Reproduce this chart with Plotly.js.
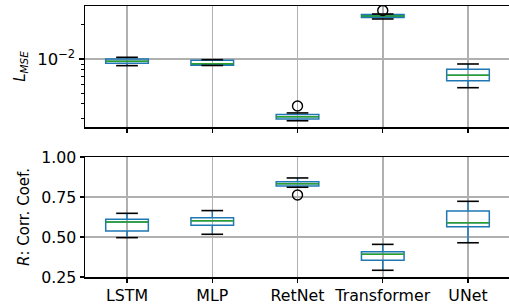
<!DOCTYPE html>
<html>
<head>
<meta charset="utf-8">
<script src="https://cdn.plot.ly/plotly-3.0.1.min.js"></script>
<style>html,body{margin:0;padding:0;background:#fff;}#chart{width:509px;height:305px;}</style>
</head>
<body>
<div id="chart"></div>
<script>
// Categories
const models = ["LSTM", "MLP", "RetNet", "Transformer", "UNet"];

// Top panel: L_MSE box statistics (log scale)
const mseLowerWhisker = [0.00873, 0.00876, 0.00284, 0.02260, 0.00557];
const mseQ1           = [0.00916, 0.00880, 0.00294, 0.02329, 0.00643];
const mseMedian       = [0.00954, 0.00909, 0.00308, 0.02403, 0.00718];
const mseQ3           = [0.01000, 0.00974, 0.00323, 0.02477, 0.00811];
const mseUpperWhisker = [0.01035, 0.00986, 0.00333, 0.02500, 0.00903];
const mseOutlierModel = ["RetNet", "Transformer"];
const mseOutlierValue = [0.00384, 0.02685];

// Bottom panel: R correlation coefficient box statistics
const rLowerWhisker = [0.496, 0.517, 0.811, 0.292, 0.464];
const rQ1           = [0.538, 0.573, 0.819, 0.354, 0.564];
const rMedian       = [0.594, 0.602, 0.833, 0.392, 0.589];
const rQ3           = [0.611, 0.621, 0.846, 0.408, 0.663];
const rUpperWhisker = [0.648, 0.665, 0.869, 0.454, 0.723];
const rOutlierModel = ["RetNet"];
const rOutlierValue = [0.7625];

const BLUE = "#1f77b4", GREEN = "#2ca02c", GRID = "#b0b0b0";

function panel(xa, ya, lo, q1, med, q3, hi, outX, outY) {
  return [
    {type: "box", x: models, q1: q1, median: med, q3: q3, lowerfence: lo, upperfence: hi,
     xaxis: xa, yaxis: ya, width: 0.5, whiskerwidth: 0, fillcolor: "rgba(0,0,0,0)",
     line: {color: BLUE, width: 1.5}, hoverinfo: "skip", boxpoints: false},
    {type: "box", x: models, q1: med, median: med, q3: med, lowerfence: med, upperfence: med,
     xaxis: xa, yaxis: ya, width: 0.5, whiskerwidth: 0, fillcolor: "rgba(0,0,0,0)",
     line: {color: GREEN, width: 1.5}, hoverinfo: "skip", boxpoints: false},
    {type: "scatter", mode: "markers", x: models.concat(models), y: lo.concat(hi),
     xaxis: xa, yaxis: ya, hoverinfo: "skip",
     marker: {symbol: "line-ew-open", size: 15.5, color: "black", line: {color: "black", width: 1.6}}},
    {type: "scatter", mode: "markers", x: outX, y: outY, xaxis: xa, yaxis: ya, hoverinfo: "skip",
     marker: {symbol: "circle-open", size: 10, color: "black", line: {color: "black", width: 1.4}}}
  ];
}

const data = [].concat(
  panel("x", "y", mseLowerWhisker, mseQ1, mseMedian, mseQ3, mseUpperWhisker, mseOutlierModel, mseOutlierValue),
  panel("x2", "y2", rLowerWhisker, rQ1, rMedian, rQ3, rUpperWhisker, rOutlierModel, rOutlierValue)
);

const font = {family: "DejaVu Sans, sans-serif", size: 15, color: "black"};
const tickFont = {family: "DejaVu Sans, sans-serif", size: 15.8, color: "black"};
const xCommon = {
  type: "category", categoryorder: "array", categoryarray: models,
  range: [-0.493, 4.481], showgrid: true, gridcolor: GRID, gridwidth: 1.5,
  showline: true, linecolor: "black", linewidth: 1.5, mirror: true,
  ticks: "outside", ticklen: 4, tickwidth: 1.3, tickcolor: "black", zeroline: false
};

const layout = {
  width: 509, height: 305,
  margin: {l: 85, r: 0, t: 6, b: 28},
  paper_bgcolor: "white", plot_bgcolor: "white",
  showlegend: false, font: font, boxmode: "overlay",
  xaxis: Object.assign({}, xCommon, {anchor: "y", showticklabels: false, matches: "x2"}),
  xaxis2: Object.assign({}, xCommon, {anchor: "y2", showticklabels: true, tickfont: tickFont}),
  yaxis: {
    domain: [0.5535, 1], anchor: "x", type: "log", range: [-2.602, -1.531],
    tickmode: "array", tickvals: [0.01], ticktext: ["10<sup>−2</sup>"], tickfont: {family: font.family, size: 16.5, color: "black"},
    showgrid: true, gridcolor: GRID, gridwidth: 1.5,
    showline: true, linecolor: "black", linewidth: 1.5, mirror: false,
    ticks: "outside", ticklen: 5, tickwidth: 1.3, tickcolor: "black", zeroline: false,
    minor: {tickmode: "array", tickvals: [0.003, 0.004, 0.005, 0.006, 0.007, 0.008, 0.009, 0.02],
            ticks: "outside", ticklen: 3, tickwidth: 1, tickcolor: "black", showgrid: false},
    title: {text: "<i>L</i><sub><i>MSE</i></sub>", font: font, standoff: 8}
  },
  yaxis2: {
    domain: [0, 0.4428], anchor: "x2", range: [0.25, 1.0],
    tickmode: "array", tickvals: [0.25, 0.5, 0.75, 1.0], ticktext: ["0.25", "0.50", "0.75", "1.00"], tickfont: tickFont,
    showgrid: true, gridcolor: GRID, gridwidth: 1.5,
    showline: true, linecolor: "black", linewidth: 1.5, mirror: false,
    ticks: "outside", ticklen: 4, tickwidth: 1.3, tickcolor: "black", zeroline: false,
    title: {text: "<i>R</i>: Corr. Coef.", font: font, standoff: 8}
  }
};

Plotly.newPlot("chart", data, layout, {staticPlot: true, displayModeBar: false});
</script>
</body>
</html>
